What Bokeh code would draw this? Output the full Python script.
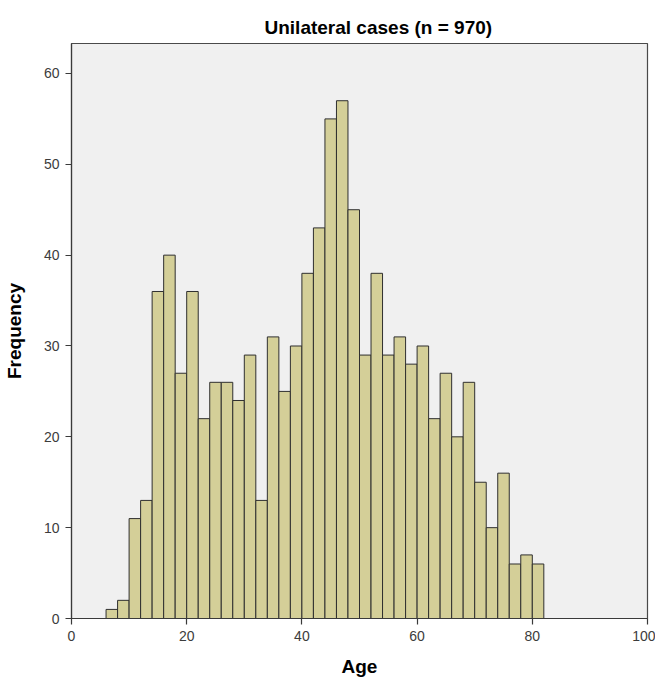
from bokeh.plotting import figure
from bokeh.models import Range1d, FixedTicker
from bokeh.embed import file_html
from bokeh.resources import INLINE

# Histogram data: bins of width 2 years
bin_left = [6, 8, 10, 12, 14, 16, 18, 20, 22, 24, 26, 28, 30, 32, 34, 36, 38,
            40, 42, 44, 46, 48, 50, 52, 54, 56, 58, 60, 62, 64, 66, 68, 70,
            72, 74, 76, 78, 80]
bin_right = [8, 10, 12, 14, 16, 18, 20, 22, 24, 26, 28, 30, 32, 34, 36, 38, 40,
             42, 44, 46, 48, 50, 52, 54, 56, 58, 60, 62, 64, 66, 68, 70, 72,
             74, 76, 78, 80, 82]
frequency = [1, 2, 11, 13, 36, 40, 27, 36, 22, 26, 26, 24, 29, 13, 31, 25, 30,
             38, 43, 55, 57, 45, 29, 38, 29, 31, 28, 30, 22, 27, 20, 26, 15,
             10, 16, 6, 7, 6]
bottom = [0] * len(frequency)

x_ticks = [0, 20, 40, 60, 80, 100]
y_ticks = [0, 10, 20, 30, 40, 50, 60]

FONT = "Liberation Sans"

p = figure(width=655, height=680, output_backend="svg", toolbar_location=None,
           x_range=Range1d(0, 100), y_range=Range1d(0, 63.3),
           title="Unilateral cases (n = 970)",
           min_border_left=70, min_border_right=8, min_border_top=43,
           min_border_bottom=62)

p.quad(left=bin_left, right=bin_right, top=frequency, bottom=bottom,
       fill_color="#D4CF98", line_color="#2f2f2f", line_width=1)

p.background_fill_color = "#F0F0F0"
p.border_fill_color = "white"
p.outline_line_color = "#4a4a4a"
p.outline_line_width = 1.2
p.grid.visible = False

p.title.text_font = FONT
p.title.text_font_size = "19px"
p.title.text_font_style = "bold"
p.title.text_color = "black"
p.title.align = "left"
p.title.offset = 193
p.title.standoff = 12

for ax in (p.xaxis[0], p.yaxis[0]):
    ax.axis_line_color = "#3a3a3a"
    ax.axis_line_width = 1.2
    ax.major_tick_line_color = "#3a3a3a"
    ax.major_tick_line_width = 1.2
    ax.major_tick_out = 6
    ax.major_tick_in = 0
    ax.minor_tick_line_color = None
    ax.major_label_text_font = FONT
    ax.major_label_text_font_size = "14px"
    ax.major_label_text_color = "#3c3c3c"
    ax.axis_label_text_font = FONT
    ax.axis_label_text_font_size = "19px"
    ax.axis_label_text_font_style = "bold"
    ax.axis_label_text_color = "black"

p.xaxis[0].ticker = FixedTicker(ticks=x_ticks)
p.yaxis[0].ticker = FixedTicker(ticks=y_ticks)
p.xaxis[0].axis_label = "Age"
p.yaxis[0].axis_label = "Frequency"
p.xaxis[0].major_label_standoff = 6
p.yaxis[0].major_label_standoff = 6
p.xaxis[0].axis_label_standoff = 12
p.yaxis[0].axis_label_standoff = 16

open("out.html", "w").write(file_html(p, INLINE))
